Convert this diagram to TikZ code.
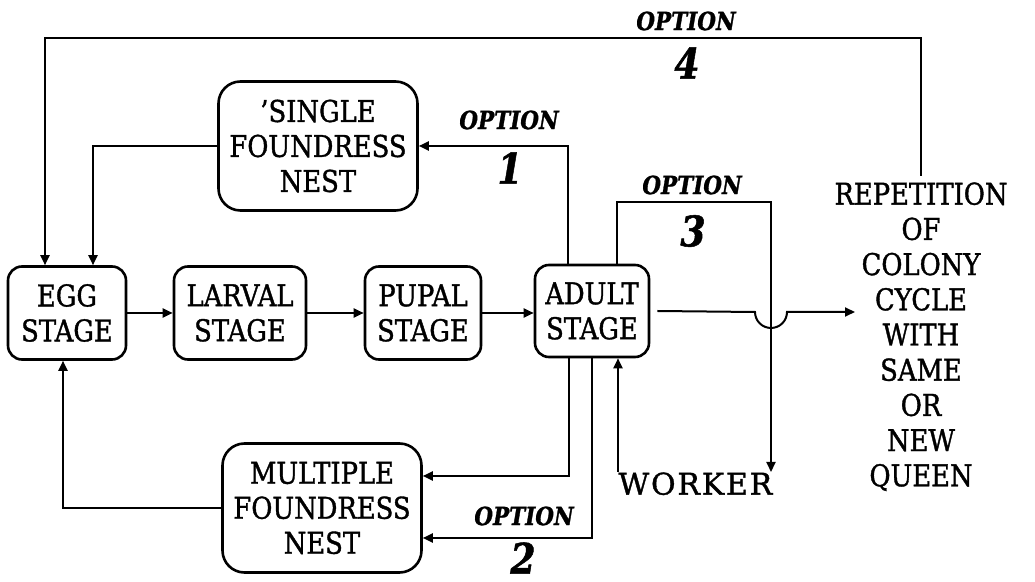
\documentclass[tikz,border=0pt]{standalone}
\usepackage{fontspec}
\setmainfont{DejaVu Serif}[FakeStretch=0.86,FakeBold=1.2]
\newfontfamily\workerfont{DejaVu Serif}[LetterSpace=6,FakeBold=1.2]
\usetikzlibrary{arrows.meta}

\begin{document}
\begin{tikzpicture}[x=0.5pt,y=-0.5pt,
  stage/.style={draw,line width=1.3pt,rounded corners=7pt,align=center,
    font=\fontsize{15}{17.5}\selectfont,inner sep=0pt},
  nest/.style={stage,rounded corners=11pt,minimum width=99.5pt,minimum height=64.5pt},
  opt/.style={font=\fontsize{12.5}{14}\selectfont\bfseries\itshape},
  num/.style={font=\fontsize{21}{24}\selectfont\bfseries\itshape},
  arr/.style={line width=1pt,-{Triangle[length=5pt,width=4.5pt]}}]
\useasboundingbox (0,0) rectangle (1035,582);
\node[stage,minimum width=59pt,minimum height=46.5pt] (egg) at (67,313) {EGG\\STAGE};
\node[stage,minimum width=66pt,minimum height=46.5pt] (larval) at (240,313) {LARVAL\\STAGE};
\node[stage,minimum width=58pt,minimum height=46.5pt] (pupal) at (423,313) {PUPAL\\STAGE};
\node[stage,minimum width=57pt,minimum height=46pt] (adult) at (592,311) {ADULT\\STAGE};
\node[nest] (single) at (318,146) {'SINGLE\\FOUNDRESS\\NEST};
\node[nest] (multiple) at (322,508) {MULTIPLE\\FOUNDRESS\\NEST};
\node[font=\workerfont\fontsize{15}{17.5}\selectfont,anchor=north west,inner sep=0pt] (worker) at (618,472) {WORKER};
\node[font=\fontsize{15}{17.6}\selectfont,align=center,anchor=north,inner sep=3pt] (repeat) at (921,176)
  {REPETITION\\OF\\COLONY\\CYCLE\\WITH\\SAME\\OR\\NEW\\QUEEN};

\draw[arr] (egg) -- (larval);
\draw[arr] (larval) -- (pupal);
\draw[arr] (pupal.east) -- (adult.west |- pupal.east);

% option 1
\draw[arr] ([xshift=-12pt]adult.north) |- (single.east);
\draw[arr] (single.west) -| ([xshift=13pt]egg.north);
\node[opt] (o1) at (509,120) {OPTION};
\node[num] (n1) at (510,168) {1};
% option 2
\draw[arr] ([xshift=-11.5pt]adult.south) |- ([yshift=16pt]multiple.east);
\draw[arr] (adult.south) |- ([yshift=-15pt]multiple.east);
\draw[arr] (multiple.west) -| ([xshift=-2pt]egg.south);
\node[opt] (o2) at (524,516) {OPTION};
\node[num] (n2) at (523,558) {2};
% option 3
\coordinate (c3) at (771,202);
\draw[arr] ([xshift=12.5pt]adult.north) |- (c3) -- (c3 |- worker.north);
\draw[arr] (worker.north west) -- (worker.north west |- adult.south);
\node[opt] (o3) at (692,185) {OPTION};
\node[num] (n3) at (693,231) {3};
% option 4
\coordinate (c4) at (45,38);
\draw[arr] (repeat.north) |- (c4) -- (c4 |- egg.north);
\node[opt] (o4) at (686,21) {OPTION};
\node[num] (n4) at (687,63) {4};

\coordinate (qin) at (855,312);
\draw[arr] ([xshift=3.5pt]adult.east) -- (755,312) arc[start angle=180,end angle=0,radius=16] -- (qin);
\end{tikzpicture}
\end{document}
